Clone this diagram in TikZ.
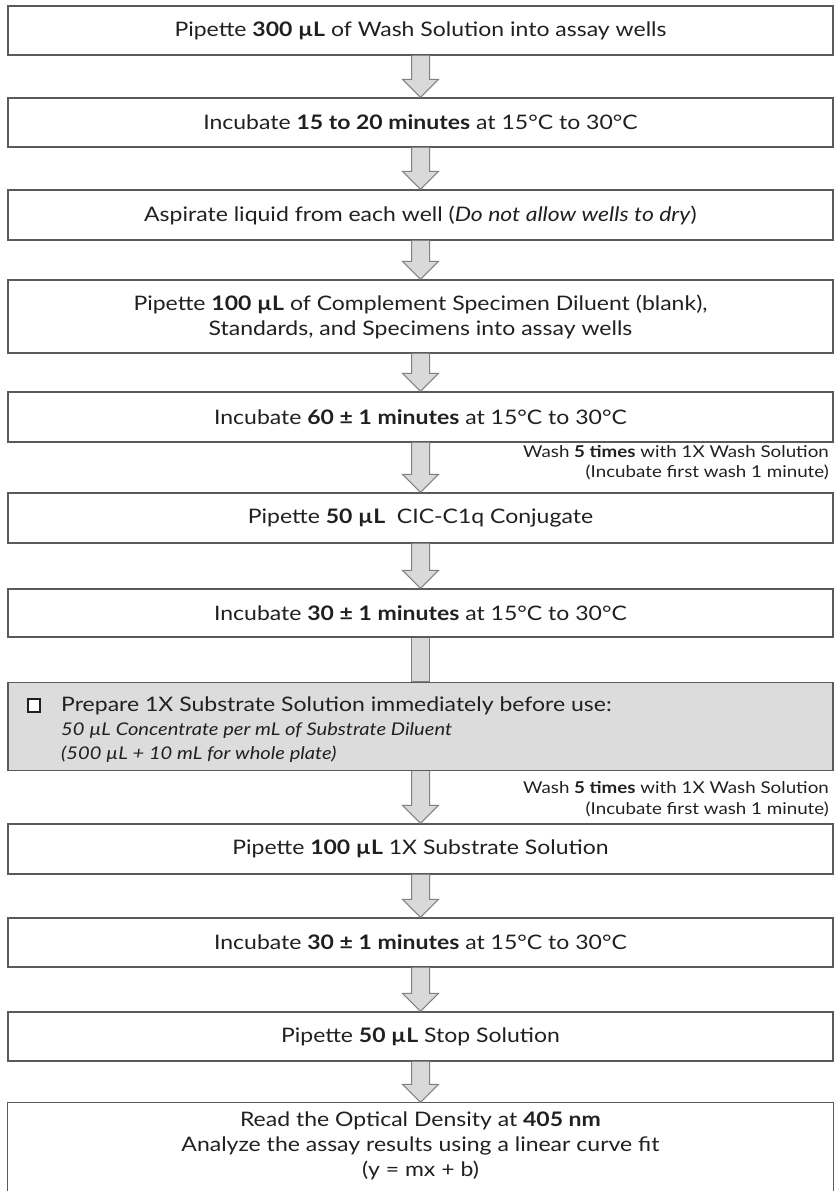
\documentclass[tikz,border=0pt]{standalone}
\usepackage{fontspec}
\usetikzlibrary{calc}
\setmainfont{Lato}[FakeStretch=1.15]
\definecolor{boxline}{HTML}{5A5A5A}
\definecolor{arrline}{HTML}{808080}
\definecolor{arrfill}{HTML}{D9D9D9}
\definecolor{grayfill}{HTML}{DCDCDC}
\definecolor{txt}{HTML}{231F20}
\newcommand{\mainfs}{\fontsize{20}{25}\selectfont}
\newcommand{\smallfs}{\fontsize{16.3}{19.5}\selectfont}
\newcommand{\italfs}{\fontsize{17.5}{24}\selectfont\itshape}
\tikzset{
  stepbox/.style={draw=boxline, line width=1.3pt, fill=white, minimum width=825pt,
    inner sep=0pt, align=center, font=\mainfs, text=txt},
  blockarr/.style={draw=arrline, line width=1pt, fill=arrfill},
  washlbl/.style={anchor=base east, align=right, font=\smallfs, text=txt, inner sep=0pt},
  grayline/.style={anchor=base west, inner sep=0pt, text=txt},
}
\newcommand{\blockarrow}[2]{%
  \draw[blockarr] let \p1=(#1.south), \p2=(#2.north) in
    ({\x1-9pt},{\y1}) -- ({\x1-9pt},{\y2+18pt}) -- ({\x1-18pt},{\y2+18pt}) --
    (\x1,\y2) -- ({\x1+18pt},{\y2+18pt}) -- ({\x1+9pt},{\y2+18pt}) -- ({\x1+9pt},{\y1});}
\begin{document}
\begin{tikzpicture}[x=1pt,y=-1pt]
\useasboundingbox (0,0) rectangle (834,1191);
\clip (0,0) rectangle (834,1191);

\node[stepbox, minimum height=49pt] (b1) at (420.5,30.5)
  {Pipette \textbf{300 µL} of Wash Solution into assay wells};
\node[stepbox, minimum height=49pt] (b2) at (420.5,122.5)
  {Incubate \textbf{15 to 20 minutes} at 15°C to 30°C};
\node[stepbox, minimum height=50pt] (b3) at (420.5,215)
  {Aspirate liquid from each well (\textit{Do not allow wells to dry})};
\node[stepbox, minimum height=73pt] (b4) at (420.5,316.5)
  {Pipette \textbf{100 µL} of Complement Specimen Diluent (blank),\\Standards, and Specimens into assay wells};
\node[stepbox, minimum height=50pt] (b5) at (420.5,417)
  {Incubate \textbf{60 ± 1 minutes} at 15°C to 30°C};
\node[stepbox, minimum height=50pt] (b6) at (420.5,518)
  {Pipette \textbf{50 µL}\ \ CIC-C1q Conjugate};
\node[stepbox, minimum height=48pt] (b7) at (420.5,613)
  {Incubate \textbf{30 ± 1 minutes} at 15°C to 30°C};
\node[stepbox, fill=grayfill, minimum height=88pt] (g) at (420.5,726.5) {};
\node[stepbox, minimum height=50pt] (b8) at (420.5,849)
  {Pipette \textbf{100 µL} 1X Substrate Solution};
\node[stepbox, minimum height=49pt] (b9) at (420.5,942.5)
  {Incubate \textbf{30 ± 1 minutes} at 15°C to 30°C};
\node[stepbox, minimum height=49pt] (b10) at (420.5,1036.5)
  {Pipette \textbf{50 µL} Stop Solution};
\node[stepbox, draw=none, fill=none, minimum height=85pt] (b11) at (420.5,1145.5)
  {Read the Optical Density at \textbf{405 nm}\\Analyze the assay results using a linear curve fit\\(y = mx + b)};
\draw[boxline, line width=1.3pt] ([yshift=-20pt]b11.south west) -- (b11.north west)
  -- (b11.north east) -- ([yshift=-20pt]b11.south east);

% gray box contents
\node[draw=txt, line width=1.2pt, fill=white, minimum width=12pt, minimum height=13pt, inner sep=0pt]
  (cb) at (34,705.5) {};
\node[grayline, font=\mainfs] (g1) at (61,711)
  {Prepare 1X Substrate Solution immediately before use:};
\node[grayline, font=\italfs] (g2) at (61,735)
  {50 µL Concentrate per mL of Substrate Diluent};
\node[grayline, font=\italfs] (g3) at (61,759)
  {(500 µL + 10 mL for whole plate)};

% wash labels
\node[washlbl] (w1) at (829,477) {Wash \textbf{5 times} with 1X Wash Solution\\(Incubate first wash 1 minute)};
\node[washlbl] (w2) at (829,814) {Wash \textbf{5 times} with 1X Wash Solution\\[1.5pt](Incubate first wash 1 minute)};

% arrows
\blockarrow{b1}{b2}
\blockarrow{b2}{b3}
\blockarrow{b3}{b4}
\blockarrow{b4}{b5}
\blockarrow{b5}{b6}
\blockarrow{b6}{b7}
\draw[blockarr] let \p1=(b7.south), \p2=(g.north) in
  ({\x1-9pt},{\y1}) -- ({\x1-9pt},{\y2}) -- ({\x1+9pt},{\y2}) -- ({\x1+9pt},{\y1});
\blockarrow{g}{b8}
\blockarrow{b8}{b9}
\blockarrow{b9}{b10}
\blockarrow{b10}{b11}
\end{tikzpicture}
\end{document}
